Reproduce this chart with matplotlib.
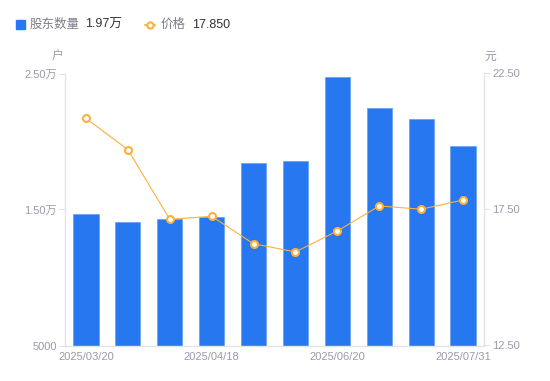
import numpy as np
import matplotlib.pyplot as plt

plt.rcParams['font.family'] = ['Liberation Sans', 'Noto Sans CJK SC', 'DejaVu Sans']

# 日期（只显示部分）
dates = ['2025/03/20', '2025/03/31', '2025/04/10', '2025/04/18', '2025/04/30',
         '2025/05/20', '2025/06/20', '2025/06/30', '2025/07/10', '2025/07/31']
# 股东数量（户）
holders = [14650, 14060, 14300, 14430, 18400, 18570, 24760, 22440, 21630, 19700]
# 价格（元）
price = [20.85, 19.70, 17.14, 17.25, 16.24, 15.94, 16.71, 17.63, 17.51, 17.85]

left_ticks = [5000, 15000, 25000]
left_labels = ['5000', '1.50万', '2.50万']
right_ticks = [12.5, 17.5, 22.5]
show_idx = [0, 3, 6, 9]

bar_c = '#2677f0'
line_c = '#fbb13c'
txt_c = '#9a9aaa'
ax_c = '#e3e3e8'

fig = plt.figure(figsize=(5.5, 3.81), dpi=100)
ax = fig.add_axes([65/550, 1-345.5/381, 419/550, 272/381])
x = np.arange(len(dates))
ax.bar(x, holders, width=0.6, color=bar_c, edgecolor='#6aa3f5', linewidth=0.6, zorder=2)
ax.set_ylim(5000, 25000)
ax.set_xlim(-0.5, len(dates)-0.5)
ax.set_yticks(left_ticks)
ax.set_yticklabels(left_labels)
ax.set_xticks([x[i] for i in show_idx])
ax.set_xticklabels([dates[i] for i in show_idx])

ax2 = ax.twinx()
ax2.plot(x, price, color=line_c, linewidth=0.8, marker='o', markersize=5,
         markerfacecolor='white', markeredgecolor=line_c, markeredgewidth=1.5, zorder=3)
ax2.set_ylim(12.5, 22.5)
ax2.set_yticks(right_ticks)
ax2.set_yticklabels(['%.2f' % v for v in right_ticks])

for a in (ax, ax2):
    for s in a.spines.values():
        s.set_visible(False)
ax.spines['left'].set_visible(True)
ax.spines['bottom'].set_visible(True)
ax2.spines['right'].set_visible(True)
for s in (ax.spines['left'], ax.spines['bottom'], ax2.spines['right']):
    s.set_color(ax_c)
    s.set_linewidth(1)
ax.tick_params(axis='y', colors=ax_c, labelcolor=txt_c, labelsize=8, length=4, pad=2)
ax.tick_params(axis='x', length=0, labelcolor=txt_c, labelsize=8, pad=5)
ax2.tick_params(axis='y', colors=ax_c, labelcolor=txt_c, labelsize=8, length=4, pad=2)

fig.text(58/550, 1-57/381, '户', color=txt_c, fontsize=8.5, ha='center', va='center')
fig.text(490/550, 1-57/381, '元', color=txt_c, fontsize=8.5, ha='center', va='center')

# 图例
fig.patches.append(plt.Rectangle((16/550, 1-29/381), 9/550, 9/381, transform=fig.transFigure,
                                 color=bar_c, figure=fig))
fig.text(30/550, 1-24.5/381, '股东数量', color='#7d7d8a', fontsize=9, va='center')
fig.text(85/550, 1-24.5/381, '1.97万', color='#333333', fontsize=9, va='center')
fig.lines.append(plt.Line2D([145/550, 155/550], [1-24.5/381, 1-24.5/381], transform=fig.transFigure,
                            color=line_c, linewidth=1.2))
fig.lines.append(plt.Line2D([150/550], [1-24.5/381], transform=fig.transFigure, color=line_c,
                            marker='o', markersize=4.5, markerfacecolor='white', markeredgewidth=1.5))
fig.text(161/550, 1-24.5/381, '价格', color='#7d7d8a', fontsize=9, va='center')
fig.text(192/550, 1-24.5/381, '17.850', color='#333333', fontsize=9, va='center')

fig.savefig('out.png', dpi=100)
